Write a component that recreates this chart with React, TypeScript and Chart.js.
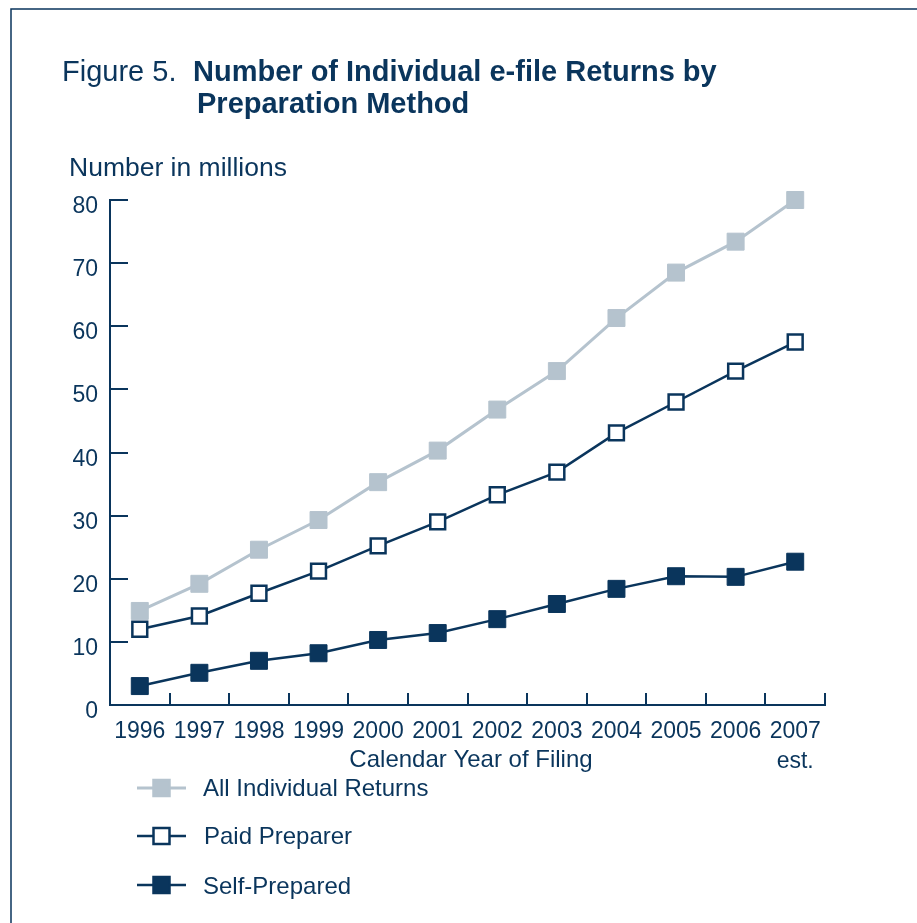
import React, { useEffect, useRef } from 'react';
import { Chart, registerables } from 'chart.js';

Chart.register(...registerables);

// ---- data ----
const years = ['1996', '1997', '1998', '1999', '2000', '2001', '2002', '2003', '2004', '2005', '2006', '2007'];
const xTickLabels: (string | string[])[] = [...years.slice(0, 11), ['2007', 'est.']];
const allReturns = [14.9, 19.2, 24.6, 29.3, 35.3, 40.3, 46.8, 52.9, 61.3, 68.5, 73.4, 80.0];
const paidPreparer = [12.0, 14.1, 17.7, 21.2, 25.2, 29.0, 33.3, 36.9, 43.1, 48.0, 52.9, 57.5];
const selfPrepared = [3.0, 5.1, 7.0, 8.2, 10.3, 11.4, 13.6, 16.0, 18.4, 20.4, 20.3, 22.7];
const seriesNames = ['All Individual Returns', 'Paid Preparer', 'Self-Prepared'];
const yMin = 0;
const yMax = 80;
const yStep = 10;
const titleLead = 'Figure 5.';
const titleLines = ['Number of Individual e-file Returns by', 'Preparation Method'];
const yAxisTitle = 'Number in millions';
const xAxisTitle = 'Calendar Year of Filing';

// ---- styles ----
const NAVY = '#0a355c';
const GRAY = '#b5c3ce';
const FONT = '"Liberation Sans", Arial, Helvetica, sans-serif';

const decorPlugin = {
  id: 'decor',
  beforeDraw(chart: any) {
    const { ctx } = chart;
    ctx.save();
    ctx.fillStyle = '#ffffff';
    ctx.fillRect(0, 0, chart.width, chart.height);
    ctx.strokeStyle = NAVY;
    ctx.lineWidth = 1.5;
    ctx.beginPath();
    ctx.moveTo(11, chart.height);
    ctx.lineTo(11, 9);
    ctx.lineTo(chart.width, 9);
    ctx.stroke();
    ctx.restore();
  },
  beforeDatasetsDraw(chart: any) {
    const { ctx, chartArea, scales } = chart;
    const x = scales.x;
    const y = scales.y;
    ctx.save();
    ctx.strokeStyle = NAVY;
    ctx.lineWidth = 2;
    // y tick marks (inside)
    y.ticks.forEach((t: any) => {
      const py = Math.round(y.getPixelForValue(t.value));
      ctx.beginPath();
      ctx.moveTo(chartArea.left, py);
      ctx.lineTo(chartArea.left + 18, py);
      ctx.stroke();
    });
    // x tick marks at category boundaries (upwards)
    const half = (x.getPixelForValue(1) - x.getPixelForValue(0)) / 2;
    for (let i = 0; i < x.ticks.length; i++) {
      const px = Math.round(x.getPixelForValue(i) + half);
      ctx.beginPath();
      ctx.moveTo(px, chartArea.bottom);
      ctx.lineTo(px, chartArea.bottom - 12);
      ctx.stroke();
    }
    ctx.restore();
  },
  afterDraw(chart: any) {
    const { ctx, chartArea, scales } = chart;
    const y = scales.y;
    ctx.save();
    ctx.fillStyle = NAVY;
    ctx.textBaseline = 'alphabetic';

    // y tick labels
    ctx.font = `23px ${FONT}`;
    ctx.textAlign = 'right';
    y.ticks.forEach((t: any) => {
      const py = y.getPixelForValue(t.value);
      ctx.fillText(String(t.value), chartArea.left - 12, py + 13);
    });

    // title
    ctx.textAlign = 'left';
    ctx.font = `29px ${FONT}`;
    ctx.fillText(titleLead, 62, 81);
    ctx.font = `bold 29px ${FONT}`;
    ctx.fillText(titleLines[0], 193, 81);
    ctx.fillText(titleLines[1], 197, 113);

    // y axis title
    ctx.font = `26.5px ${FONT}`;
    ctx.fillText(yAxisTitle, 69, 176);

    // x axis title
    ctx.font = `24px ${FONT}`;
    ctx.textAlign = 'center';
    ctx.fillText(xAxisTitle, 471, 767);

    // legend
    const rows = [
      { name: seriesNames[0], cy: 788, base: 796, line: GRAY, fill: GRAY, stroke: GRAY, lw: 3, tx: 203 },
      { name: seriesNames[1], cy: 836, base: 844, line: NAVY, fill: '#ffffff', stroke: NAVY, lw: 2.5, tx: 204 },
      { name: seriesNames[2], cy: 885, base: 894, line: NAVY, fill: NAVY, stroke: NAVY, lw: 2.5, tx: 203 },
    ];
    rows.forEach((r) => {
      ctx.strokeStyle = r.line;
      ctx.lineWidth = r.lw;
      ctx.beginPath();
      ctx.moveTo(137, r.cy);
      ctx.lineTo(186, r.cy);
      ctx.stroke();
      const s = 16;
      ctx.fillStyle = r.fill;
      ctx.fillRect(161.5 - s / 2, r.cy - s / 2, s, s);
      ctx.strokeStyle = r.stroke;
      ctx.lineWidth = 2.5;
      ctx.strokeRect(161.5 - s / 2, r.cy - s / 2, s, s);
      ctx.fillStyle = NAVY;
      ctx.textAlign = 'left';
      ctx.font = `24px ${FONT}`;
      ctx.fillText(r.name, r.tx, r.base);
    });
    ctx.restore();
  },
};

export default function App() {
  const ref = useRef<HTMLCanvasElement | null>(null);

  useEffect(() => {
    if (!ref.current) return;
    const chart = new Chart(ref.current, {
      type: 'line',
      data: {
        labels: xTickLabels as any,
        datasets: [
          {
            label: seriesNames[0],
            data: allReturns,
            borderColor: GRAY,
            backgroundColor: GRAY,
            borderWidth: 3,
            pointStyle: 'rect',
            pointRadius: 12,
            pointBorderWidth: 1,
            pointBorderColor: GRAY,
            pointBackgroundColor: GRAY,
            clip: false as any,
          },
          {
            label: seriesNames[1],
            data: paidPreparer,
            borderColor: NAVY,
            backgroundColor: '#ffffff',
            borderWidth: 2.5,
            pointStyle: 'rect',
            pointRadius: 10.5,
            pointBorderWidth: 2.5,
            pointBorderColor: NAVY,
            pointBackgroundColor: '#ffffff',
            clip: false as any,
          },
          {
            label: seriesNames[2],
            data: selfPrepared,
            borderColor: NAVY,
            backgroundColor: NAVY,
            borderWidth: 2.5,
            pointStyle: 'rect',
            pointRadius: 12,
            pointBorderWidth: 1,
            pointBorderColor: NAVY,
            pointBackgroundColor: NAVY,
            clip: false as any,
          },
        ],
      },
      options: {
        responsive: false,
        animation: false,
        events: [],
        layout: { padding: { top: 200, right: 92, left: 0, bottom: 0 } },
        plugins: {
          legend: { display: false },
          title: { display: false },
          tooltip: { enabled: false },
        },
        scales: {
          x: {
            type: 'category',
            offset: true,
            grid: { display: false },
            border: { display: true, color: NAVY, width: 2 },
            ticks: {
              color: NAVY,
              font: { family: FONT, size: 23, lineHeight: 1.3 },
              padding: 4,
              maxRotation: 0,
              autoSkip: false,
            },
            afterFit(scale: any) {
              scale.height = 218;
            },
          },
          y: {
            min: yMin,
            max: yMax,
            grid: { display: false },
            border: { display: true, color: NAVY, width: 2 },
            ticks: { display: false, stepSize: yStep },
            afterFit(scale: any) {
              scale.width = 110;
            },
          },
        },
      },
      plugins: [decorPlugin],
    });
    return () => chart.destroy();
  }, []);

  return (
    <canvas
      ref={ref}
      width={917}
      height={923}
      style={{ position: 'absolute', left: 0, top: 0, width: 917, height: 923 }}
    />
  );
}
